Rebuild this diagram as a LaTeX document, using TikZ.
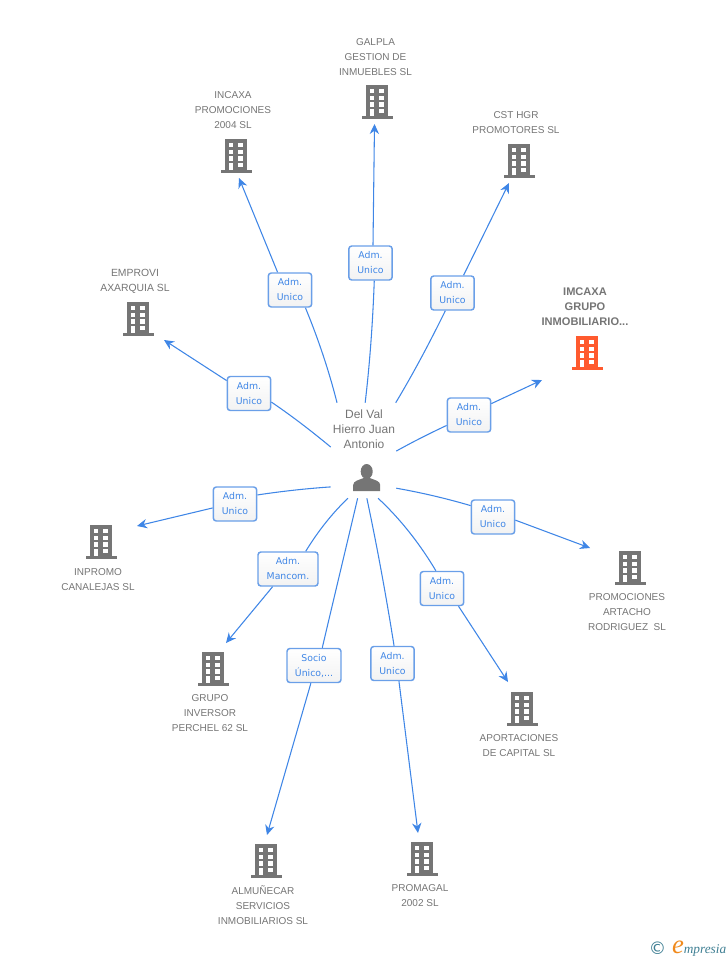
\documentclass[tikz,border=0pt]{standalone}
\usepackage{fontspec}
\setmainfont{Liberation Sans}
\newfontfamily\lblfont{DejaVu Sans}
\newfontfamily\logofont{Liberation Serif}
\usetikzlibrary{arrows.meta}
\definecolor{iconGrey}{HTML}{757575}
\definecolor{iconOrange}{HTML}{FF5A2E}
\definecolor{linkBlue}{HTML}{3F86E6}
\definecolor{boxBlue}{HTML}{6A9FE8}
\definecolor{logoTeal}{HTML}{3F7F93}
\definecolor{logoOrange}{HTML}{F08A1D}
\tikzset{
  company/.style={font=\fontsize{7.5}{11.25}\selectfont, text=iconGrey, align=center, inner sep=0pt},
  rolebox/.style={draw=boxBlue, line width=1.1pt, rounded corners=2.2pt, top color=white, bottom color=black!5,
    minimum width=32.5pt, minimum height=25.5pt, inner sep=0pt, align=center, text=linkBlue,
    font=\lblfont\fontsize{7}{11.25}\selectfont},
  hub/.style={minimum width=48.75pt, minimum height=71.25pt, inner sep=0pt},
  link/.style={draw=linkBlue, line width=.8pt},
  tiplink/.style={link, -{Stealth[length=7.5pt,width=7pt]}},
  pics/building/.style={code={
    \fill[#1] (-11,-17) rectangle (11,14);
    \fill[#1] (-15.5,14) rectangle (15.5,16.5);
    \fill[white] (-7.5,-13) rectangle (-3,-8.7);
    \fill[white] (2,-13) rectangle (6.8,-8.7);
    \fill[white] (-7.5,-6.3) rectangle (-3,-2);
    \fill[white] (2,-6.3) rectangle (6.8,-2);
    \fill[white] (-7.5,0.3) rectangle (-3,4.7);
    \fill[white] (2,0.3) rectangle (6.8,4.7);
    \fill[white] (-7.5,7) rectangle (-3,14);
    \fill[white] (2,7) rectangle (6.8,11.3);
  }},
  pics/person/.style={code={
    \fill[iconGrey] (0,-8.5) ellipse (6 and 7.5);
    \fill[iconGrey] (-13.5,11) -- (-13.5,5) .. controls (-13.5,1) and (-8,0) .. (-3,-2) -- (3,-2)
      .. controls (8,0) and (13.5,1) .. (13.5,5) -- (13.5,11) -- cycle;
  }}
}
\begin{document}
\begin{tikzpicture}[x=0.75pt,y=-0.75pt]
  \useasboundingbox (0,0) rectangle (728,960);

  \node[hub] (hub) at (363.5,450.5) {};
  \node[company, font=\fontsize{9}{11.25}\selectfont] (delVal) at (364,429.5) {Del Val\\Hierro Juan\\Antonio};
  \pic at (366.7,480) {person};

  \node[company] (galpla) at (375.5,57) {GALPLA\\GESTION DE\\INMUEBLES SL};
  \node[company] (incaxa) at (233,110) {INCAXA\\PROMOCIONES\\2004 SL};
  \node[company] (cstHgr) at (516,123) {CST HGR\\PROMOTORES SL};
  \node[company, font=\fontsize{7.8}{11.25}\selectfont] (emprovi) at (135,281.5) {EMPROVI\\AXARQUIA SL};
  \node[company, font=\fontsize{8.3}{11.25}\bfseries\selectfont] (imcaxa) at (585,307) {IMCAXA\\GRUPO\\INMOBILIARIO...};
  \node[company] (artacho) at (627,612) {PROMOCIONES\\ARTACHO\\RODRIGUEZ\ \ SL};
  \node[company] (inpromo) at (98,579.5) {INPROMO\\CANALEJAS SL};
  \node[company] (grupo) at (210,713) {GRUPO\\INVERSOR\\PERCHEL 62 SL};
  \node[company] (almunecar) at (263,905) {ALMUÑECAR\\SERVICIOS\\INMOBILIARIOS SL};
  \node[company] (promagal) at (420,896) {PROMAGAL\\2002 SL};
  \node[company] (aportaciones) at (519,746) {APORTACIONES\\DE CAPITAL SL};

  \pic at (377,102) {building=iconGrey};
  \pic at (236,156) {building=iconGrey};
  \pic at (519,161) {building=iconGrey};
  \pic at (138,319) {building=iconGrey};
  \pic at (587,353) {building=iconOrange};
  \pic at (630,568) {building=iconGrey};
  \pic at (101,542) {building=iconGrey};
  \pic at (213,669) {building=iconGrey};
  \pic at (266,861) {building=iconGrey};
  \pic at (422,859) {building=iconGrey};
  \pic at (522,709) {building=iconGrey};

  \node[rolebox] (roleGalpla) at (370.5,263) {Adm.\\Unico};
  \node[rolebox] (roleIncaxa) at (290,290) {Adm.\\Unico};
  \node[rolebox] (roleCst) at (452.5,293) {Adm.\\Unico};
  \node[rolebox] (roleEmprovi) at (249,393.5) {Adm.\\Unico};
  \node[rolebox] (roleImcaxa) at (469,415) {Adm.\\Unico};
  \node[rolebox] (roleArtacho) at (493,517) {Adm.\\Unico};
  \node[rolebox] (roleInpromo) at (235,504) {Adm.\\Unico};
  \node[rolebox, minimum width=45pt] (roleGrupo) at (288,569) {Adm.\\Mancom.};
  \node[rolebox, minimum width=40.5pt] (roleAlmunecar) at (314,665.5) {Socio\\Único,...};
  \node[rolebox] (rolePromagal) at (392.5,663.5) {Adm.\\Unico};
  \node[rolebox] (roleAportaciones) at (442,588.5) {Adm.\\Unico};

  \coordinate (tipGalpla) at (374.5,124);
  \coordinate (tipIncaxa) at (239,178);
  \coordinate (tipCst) at (509,183);
  \coordinate (tipEmprovi) at (164,340);
  \coordinate (tipImcaxa) at (542,380);
  \coordinate (tipArtacho) at (590,548);
  \coordinate (tipInpromo) at (137,526);
  \coordinate (tipGrupo) at (226,643);
  \coordinate (tipAlmunecar) at (267,835);
  \coordinate (tipPromagal) at (418,833);
  \coordinate (tipAportaciones) at (508,682);

  \draw[link] (hub.88) .. controls (369.7,364.3) and (372.7,323.7) .. (roleGalpla.-78);
  \draw[link] (hub.119) .. controls (329,371) and (318.3,339) .. (roleIncaxa.-49);
  \draw[link] (hub.56) .. controls (414,372.3) and (430.3,341.3) .. (roleCst.-112);
  \draw[link] (hub.174) .. controls (309,429) and (289,414) .. (roleEmprovi.-21);
  \draw[link] (hub.-1) .. controls (412,442.3) and (429,433.7) .. (roleImcaxa.-155);
  \draw[link] (hub.-49) .. controls (422,492.7) and (447,498.7) .. (roleArtacho.153);
  \draw[link] (hub.-132) .. controls (304,488.7) and (279,491.7) .. (roleInpromo.22);
  \draw[link] (hub.-108) .. controls (332.7,512.7) and (318.3,530.7) .. (roleGrupo.45);
  \draw[link] (hub.-97) .. controls (348,539.3) and (336,589.3) .. (roleAlmunecar.65);
  \draw[link] (hub.-86) .. controls (377,546) and (386,595.3) .. (rolePromagal.85);
  \draw[link] (hub.-73) .. controls (400.7,519.3) and (419.7,543.7) .. (roleAportaciones.109);

  \draw[tiplink] (roleGalpla.82) -- (tipGalpla);
  \draw[tiplink] (roleIncaxa.125) -- (tipIncaxa);
  \draw[tiplink] (roleCst.58) -- (tipCst);
  \draw[tiplink] (roleEmprovi.150) -- (tipEmprovi);
  \draw[tiplink] (roleImcaxa.27) -- (tipImcaxa);
  \draw[tiplink] (roleArtacho.-8) -- (tipArtacho);
  \draw[tiplink] (roleInpromo.-170) -- (tipInpromo);
  \draw[tiplink] (roleGrupo.-131) -- (tipGrupo);
  \draw[tiplink] (roleAlmunecar.-100) -- (tipAlmunecar);
  \draw[tiplink] (rolePromagal.-70) -- (tipPromagal);
  \draw[tiplink] (roleAportaciones.-47) -- (tipAportaciones);

  \node[inner sep=0pt, text=logoTeal, font=\lblfont\fontsize{13}{13}\selectfont] (logoMark) at (657.5,948.5) {©};
  \node[inner sep=0pt, text=logoOrange, font=\logofont\itshape\fontsize{20}{20}\selectfont] (logoE) at (678,947) {e};
  \node[inner sep=0pt, text=logoTeal, font=\logofont\itshape\fontsize{10}{10}\selectfont] (logoText) at (705,950) {mpresia};
\end{tikzpicture}
\end{document}
